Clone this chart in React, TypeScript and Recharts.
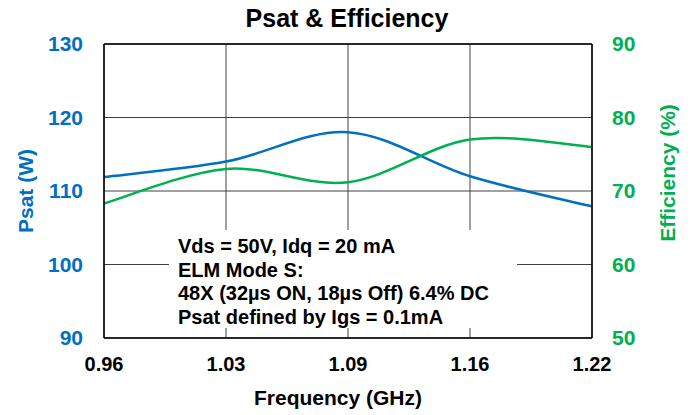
import React from "react";
import { LineChart, Line, XAxis, YAxis, CartesianGrid, ReferenceLine } from "recharts";

const freqs = [0.96, 1.025, 1.09, 1.155, 1.22];
const freqLabels = ["0.96", "1.03", "1.09", "1.16", "1.22"];
const psat = [111.9, 114.0, 118.0, 112.0, 107.9];
const efficiency = [68.3, 73.0, 71.2, 77.0, 76.0];
const psatTicks = [90, 100, 110, 120, 130];
const effTicks = [50, 60, 70, 80, 90];
const notes = [
  "Vds = 50V, Idq = 20 mA",
  "ELM Mode S:",
  "48X (32µs ON, 18µs Off) 6.4% DC",
  "Psat defined by Igs = 0.1mA",
];

const BLUE = "#0070C0";
const GREEN = "#00B050";
const FONT = '"Liberation Sans", Arial, sans-serif';

const data = freqs.map((f, i) => ({ f, psat: psat[i], eff: efficiency[i] }));

// Excel-style smoothed line (Catmull-Rom through the points)
function smooth(context: any) {
  let pts: number[][] = [];
  return {
    areaStart() {},
    areaEnd() {},
    lineStart() {
      pts = [];
    },
    point(x: number, y: number) {
      pts.push([x, y]);
    },
    lineEnd() {
      if (!pts.length) return;
      context.moveTo(pts[0][0], pts[0][1]);
      for (let i = 0; i < pts.length - 1; i++) {
        const p0 = pts[i - 1] || pts[i];
        const p1 = pts[i];
        const p2 = pts[i + 1];
        const p3 = pts[i + 2] || p2;
        context.bezierCurveTo(
          p1[0] + (p2[0] - p0[0]) / 6,
          p1[1] + (p2[1] - p0[1]) / 6,
          p2[0] - (p3[0] - p1[0]) / 6,
          p2[1] - (p3[1] - p1[1]) / 6,
          p2[0],
          p2[1]
        );
      }
    },
  };
}

const tickStyle = { fontSize: 21, fontWeight: "bold", fontFamily: FONT };

const LeftLabel = ({ viewBox }: any) => {
  const x = viewBox.x + 25;
  const y = viewBox.y + viewBox.height / 2;
  return (
    <text x={x} y={y} transform={`rotate(-90 ${x} ${y})`} textAnchor="middle" dominantBaseline="central"
      fill={BLUE} fontSize={21} fontWeight="bold" fontFamily={FONT}>
      Psat (W)
    </text>
  );
};

const RightLabel = ({ viewBox }: any) => {
  const x = viewBox.x + 75;
  const y = viewBox.y + viewBox.height / 2 - 18;
  return (
    <text x={x} y={y} transform={`rotate(-90 ${x} ${y})`} textAnchor="middle" dominantBaseline="central"
      fill={GREEN} fontSize={21} fontWeight="bold" fontFamily={FONT}>
      Efficiency (%)
    </text>
  );
};

export default function App() {
  return (
    <div style={{ position: "absolute", left: 0, top: 0, width: 694, height: 415, background: "#fff", fontFamily: FONT }}>
      <div style={{ position: "absolute", left: 0, top: 4, width: 694, textAlign: "center", fontSize: 25, fontWeight: "bold", color: "#000" }}>
        Psat &amp; Efficiency
      </div>
      <LineChart width={694} height={415} data={data} margin={{ top: 44, right: 0, bottom: 0, left: 0 }}>
        <CartesianGrid yAxisId="left" stroke="#404040" strokeWidth={1} />
        <XAxis
          dataKey="f"
          type="number"
          domain={[0.96, 1.22]}
          ticks={freqs}
          tickFormatter={(v: number) => freqLabels[freqs.indexOf(v)] ?? ""}
          height={77}
          tickSize={0}
          tickMargin={19}
          axisLine={{ stroke: "#000", strokeWidth: 1.5 }}
          tickLine={false}
          tick={{ ...tickStyle, fill: "#000", fontSize: 20 }}
          label={{ value: "Frequency (GHz)", position: "insideBottom", offset: 10, dx: -10, fill: "#000", fontSize: 21, fontWeight: "bold", fontFamily: FONT }}
        />
        <YAxis
          yAxisId="left"
          domain={[90, 130]}
          ticks={psatTicks}
          width={104}
          tickSize={0}
          tickMargin={21}
          axisLine={{ stroke: "#000", strokeWidth: 1.5 }}
          tickLine={false}
          tick={{ ...tickStyle, fill: BLUE }}
          label={<LeftLabel />}
        />
        <YAxis
          yAxisId="right"
          orientation="right"
          domain={[50, 90]}
          ticks={effTicks}
          width={102}
          tickSize={0}
          tickMargin={20}
          axisLine={{ stroke: "#000", strokeWidth: 1.5 }}
          tickLine={false}
          tick={{ ...tickStyle, fill: GREEN }}
          label={<RightLabel />}
        />
        <ReferenceLine yAxisId="left" y={130} stroke="#000" strokeWidth={1.5} />
        <Line yAxisId="left" dataKey="psat" type={smooth as any} stroke={BLUE} strokeWidth={2.5} dot={false} isAnimationActive={false} />
        <Line yAxisId="right" dataKey="eff" type={smooth as any} stroke={GREEN} strokeWidth={2.5} dot={false} isAnimationActive={false} />
      </LineChart>
      <div style={{ position: "absolute", left: 169, top: 230, width: 348, height: 98, background: "#fff", boxSizing: "border-box", padding: "5px 0 0 9px", fontSize: 20, lineHeight: "23.7px", fontWeight: "bold", color: "#000", whiteSpace: "nowrap" }}>
        {notes.map((n) => (
          <div key={n}>{n}</div>
        ))}
      </div>
    </div>
  );
}
